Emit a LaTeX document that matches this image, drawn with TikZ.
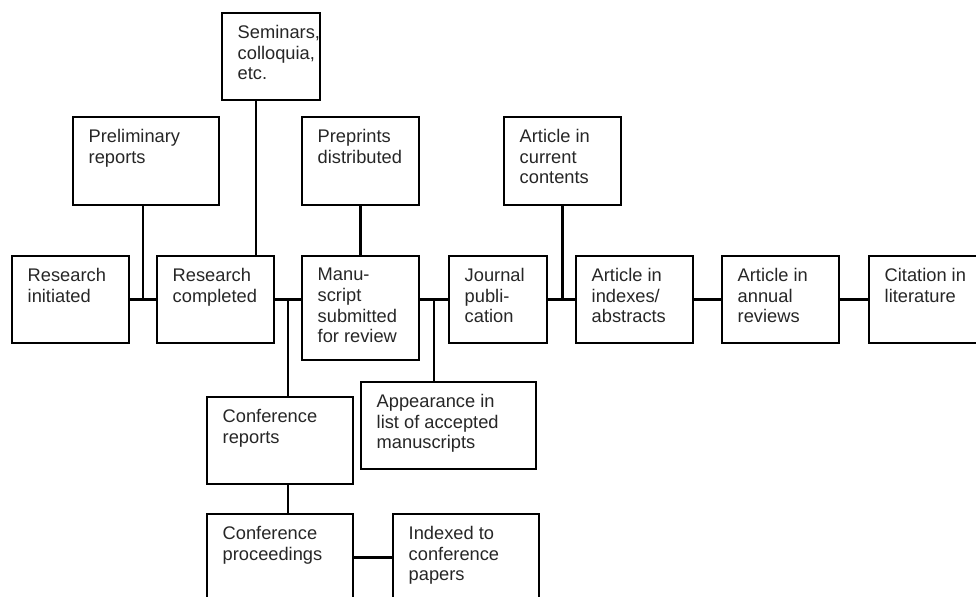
\documentclass[tikz,border=0pt]{standalone}
\usepackage{fontspec}
\setmainfont{Liberation Sans}
\usepackage{tikz}
\usetikzlibrary{calc}

\begin{document}
\begin{tikzpicture}[
    box/.style={draw,line width=1.3pt,minimum width=2.34cm,minimum height=1.74cm,inner sep=0pt},
    lbl/.style={anchor=north west,align=left,inner sep=0pt,text=black!85,
      font=\fontsize{10.4}{11.8}\selectfont,xshift=0.33cm,yshift=-0.26cm},
    link/.style={line width=1.2pt}]
  \useasboundingbox (0,0) rectangle (19.52,11.92);
  % Upper boxes
  \node[box,minimum width=1.96cm,label={[lbl]north west:{Seminars,\\colloquia,\\etc.}}] (sem) at (5.42,10.79) {};
  \node[box,minimum width=2.92cm,minimum height=1.76cm,label={[lbl]north west:{Preliminary\\reports}}] (pre) at (2.92,8.70) {};
  \node[box,minimum height=1.76cm,label={[lbl]north west:{Preprints\\distributed}}] (ppd) at (7.21,8.70) {};
  \node[box,minimum height=1.76cm,label={[lbl]north west:{Article in\\current\\contents}}] (acc) at (11.25,8.70) {};
  % Main row
  \node[box,label={[lbl]north west:{Research\\initiated}}] (ri) at (1.41,5.93) {};
  \node[box,label={[lbl]north west:{Research\\completed}}] (rc) at (4.31,5.93) {};
  \node[box,minimum height=2.08cm,label={[lbl]north west:{Manu-\\script\\submitted\\for review}}] (ms) at (7.21,5.76) {};
  \node[box,minimum width=1.96cm,label={[lbl]north west:{Journal\\publi-\\cation}}] (jp) at (9.96,5.93) {};
  \node[box,label={[lbl]north west:{Article in\\indexes/\\abstracts}}] (aia) at (12.69,5.93) {};
  \node[box,label={[lbl]north west:{Article in\\annual\\reviews}}] (aar) at (15.61,5.93) {};
  \node[box,label={[lbl]north west:{Citation in\\literature}}] (cit) at (18.55,5.93) {};
  % Lower boxes
  \node[box,minimum width=3.50cm,label={[lbl]north west:{Appearance in\\list of accepted\\manuscripts}}] (app) at (8.97,3.41) {};
  \node[box,minimum width=2.92cm,label={[lbl]north west:{Conference\\reports}}] (cr) at (5.60,3.11) {};
  \node[box,minimum width=2.92cm,label={[lbl]north west:{Conference\\proceedings}}] (cp) at (5.60,0.77) {};
  \node[box,minimum width=2.92cm,label={[lbl]north west:{Indexed to\\conference\\papers}}] (icp) at (9.32,0.77) {};
  % Junctions
  \coordinate (j1) at ($(ri.east)!0.5!(rc.west)$);
  \coordinate (j2) at ($(rc.east)!0.5!(rc.east -| ms.west)$);
  \coordinate (j3) at ($(jp.west -| ms.east)!0.5!(jp.west)$);
  \coordinate (s1) at ($(sem.south west)!0.35!(sem.south east)$);
  % Connectors
  \draw[link] (ri) -- (rc);
  \draw[link] (j1 |- pre.south) -- (j1);
  \draw[link] (s1) -- (s1 |- rc.north);
  \draw[link] (rc.east) -- (rc.east -| ms.west);
  \draw[link] (j2) -- (j2 |- cr.north);
  \draw[link] (ppd) -- (ms);
  \draw[link] (jp.west -| ms.east) -- (jp.west);
  \draw[link] (j3) -- (j3 |- app.north);
  \draw[link] (jp) -- (aia);
  \draw[link] (acc) -- (acc |- aia.west);
  \draw[link] (aia) -- (aar);
  \draw[link] (aar) -- (cit);
  \draw[link] (j2 |- cr.south) -- (j2 |- cp.north);
  \draw[link] (cp) -- (icp);
\end{tikzpicture}
\end{document}
